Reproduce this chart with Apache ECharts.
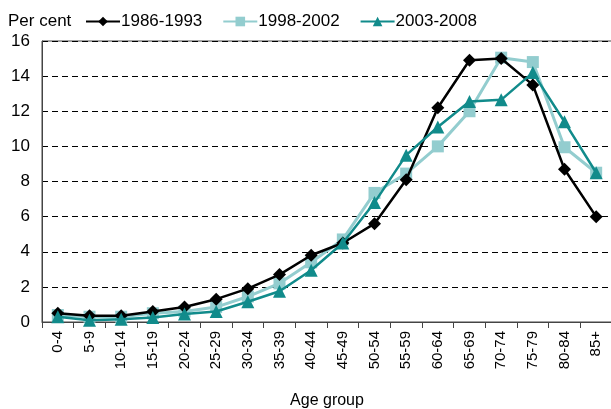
<!DOCTYPE html>
<html><head><meta charset="utf-8">
<script src="https://cdn.jsdelivr.net/npm/echarts@6/dist/echarts.min.js"></script>
<style>html,body{margin:0;padding:0;background:#fff}#c{width:611px;height:409px}</style>
</head><body><div id="c"></div>
<script>
var categories = ['0-4','5-9','10-14','15-19','20-24','25-29','30-34','35-39','40-44','45-49','50-54','55-59','60-64','65-69','70-74','75-79','80-84','85+'];
var s1986 = [0.5,0.35,0.35,0.6,0.85,1.3,1.9,2.7,3.8,4.5,5.6,8.1,12.2,14.9,15.0,13.5,8.7,6.0];
var s1998 = [0.4,0.3,0.3,0.5,0.6,0.85,1.45,2.2,3.4,4.7,7.35,8.45,10.0,12.0,15.05,14.8,9.95,8.5];
var s2003 = [0.3,0.1,0.15,0.25,0.45,0.6,1.15,1.75,2.95,4.5,6.8,9.5,11.1,12.55,12.65,14.2,11.4,8.5];
var yTicks = [0,2,4,6,8,10,12,14,16];

var chart = echarts.init(document.getElementById('c'));
var font = 'Liberation Sans, Arial, sans-serif';
chart.setOption({
  animation:false,
  textStyle:{fontFamily:font},
  title:{text:'Per cent',left:3,top:8,textStyle:{fontSize:17,fontWeight:'normal',color:'#000',fontFamily:font}},
  legend:{left:80,top:8,itemGap:20,itemWidth:34,itemHeight:12,textStyle:{fontSize:17,color:'#000',fontFamily:font,padding:[0,0,0,-4]}},
  grid:{left:42,top:41,right:-1,bottom:87,show:true,borderColor:'#444',borderWidth:1,outerBoundsMode:'none',containLabel:false},
  xAxis:{type:'category',data:categories,boundaryGap:true,name:'Age group',nameLocation:'middle',nameGap:71,
    nameTextStyle:{fontSize:16,color:'#000',fontFamily:font},
    axisLine:{lineStyle:{color:'#444',width:1}},
    axisTick:{show:true,length:6,lineStyle:{color:'#444'}},
    axisLabel:{rotate:90,fontSize:15,color:'#000',margin:9,fontFamily:font}},
  yAxis:{type:'value',min:0,max:16,interval:2,
    axisLine:{show:true,lineStyle:{color:'#444'}},axisTick:{show:false},
    axisLabel:{fontSize:17,color:'#000',margin:12,fontFamily:font,formatter:function(v){return yTicks.indexOf(v)>=0?String(v):'';}},
    splitLine:{lineStyle:{color:'#000',type:[6,4],width:1}}},
  series:[
    {name:'1986-1993',type:'line',data:s1986,symbol:'diamond',symbolSize:13,color:'#000',lineStyle:{width:2.5,color:'#000'},itemStyle:{color:'#000'},z:3},
    {name:'1998-2002',type:'line',data:s1998,symbol:'rect',symbolSize:12,color:'#93cdcf',lineStyle:{width:3,color:'#93cdcf'},itemStyle:{color:'#93cdcf'},z:2},
    {name:'2003-2008',type:'line',data:s2003,symbol:'triangle',symbolSize:13,color:'#118b8b',lineStyle:{width:2.5,color:'#118b8b'},itemStyle:{color:'#118b8b'},z:4}
  ]
});
</script></body></html>
